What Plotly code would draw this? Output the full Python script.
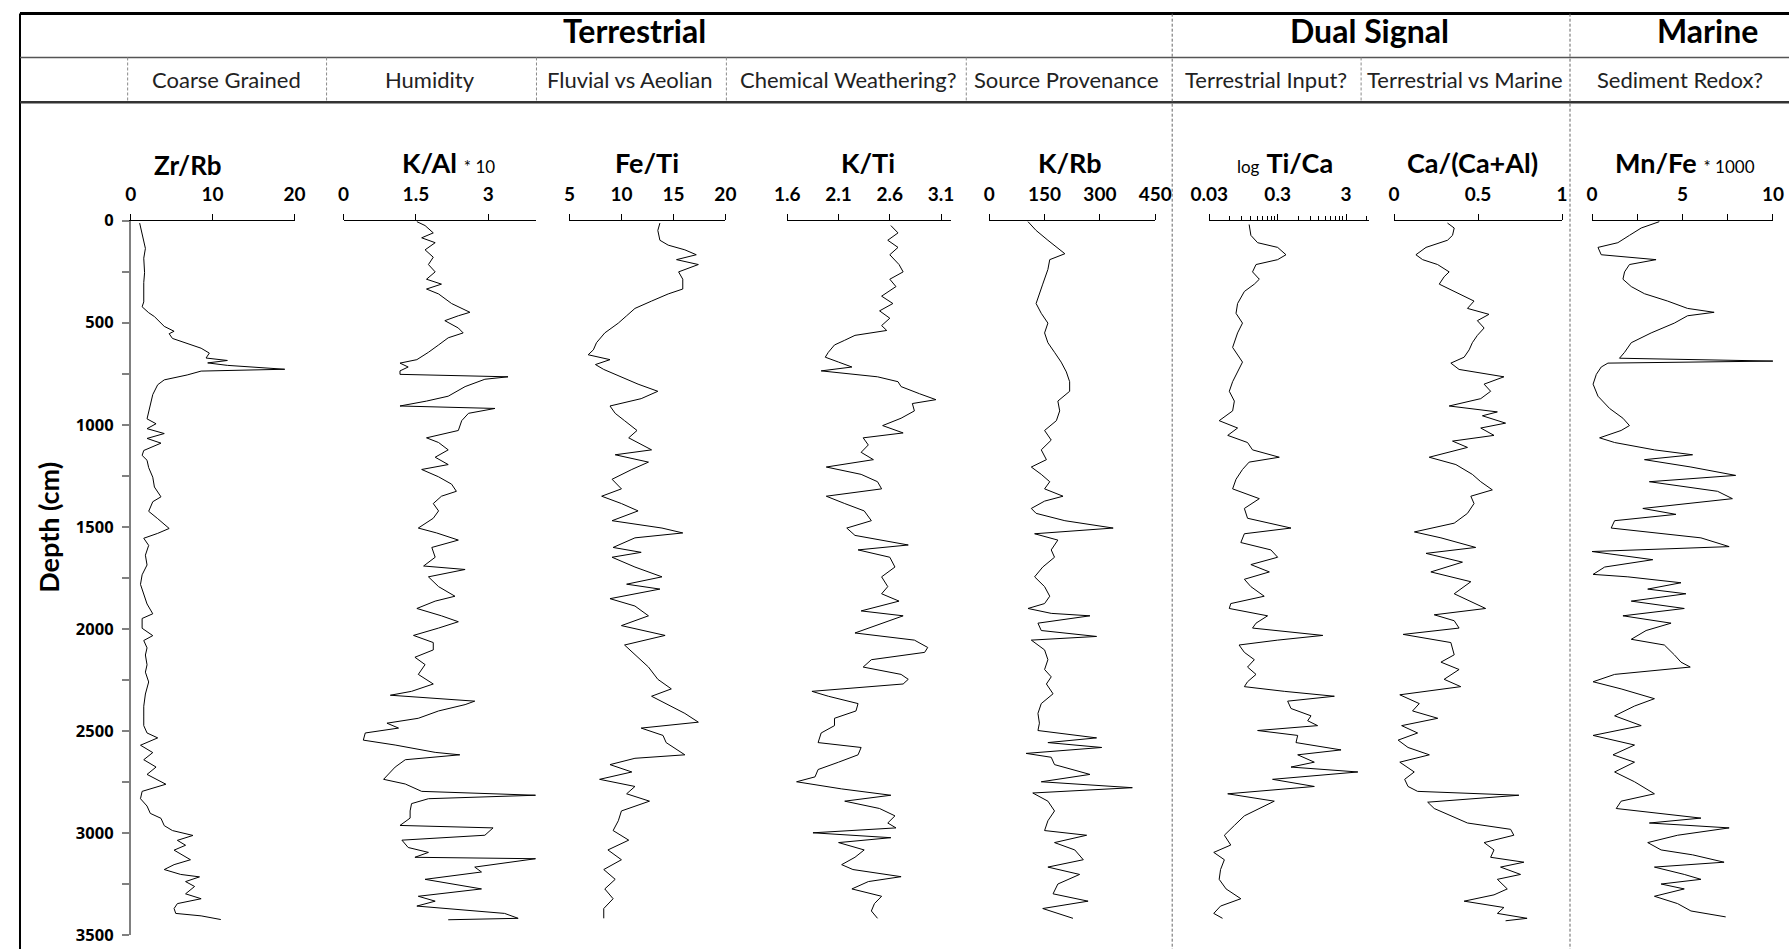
import math
import plotly.graph_objects as go

# ---------------- data (depth cm, value) ----------------
ZR_RB = [(12,1.1),(64,1.4),(136,1.8),(184,1.6),(255,1.7),(303,1.6),(398,1.6),(422,1.4),(451,2.2),(470,2.9),
         (494,3.5),(518,4.1),(542,5.3),(554,4.7),(577,5.1),(601,6.9),(625,8.6),(649,9.6),(673,9.2),(685,11.8),
         (697,9.4),(709,11.8),(728,18.8),(737,8.6),(756,6.9),(780,4.1),(804,3.3),(852,2.7),(900,2.4),(947,2.2),
         (971,2.0),(995,3.1),(1019,2.0),(1043,4.1),(1067,2.0),(1090,3.7),(1126,1.6),(1150,1.4),(1174,2.0),(1210,2.2),
         (1257,2.7),(1305,2.9),(1353,3.7),(1377,2.7),(1424,2.2),(1460,3.3),(1508,4.7),(1532,3.3),(1556,1.6),(1591,2.2),
         (1639,1.8),(1687,2.0),(1735,1.4),(1782,1.2),(1830,1.6),(1878,2.0),(1926,2.7),(1949,1.4),(1997,1.4),(2033,2.7),
         (2057,1.6),(2093,2.0),(2128,1.8),(2176,2.0),(2212,1.8),(2260,2.2),(2319,1.8),(2379,1.6),(2427,1.6),(2474,1.6),
         (2510,2.0),(2534,3.3),(2570,1.2),(2606,2.7),(2641,1.6),(2677,3.1),(2713,2.0),(2761,4.3),(2796,1.4),(2832,1.2),
         (2868,2.0),(2904,2.4),(2928,3.7),(2964,4.1),(2988,5.1),(3012,7.6),(3036,5.7),(3060,6.7),(3084,5.3),(3107,6.3),
         (3131,7.3),(3155,5.3),(3179,4.1),(3203,6.1),(3215,8.4),(3238,6.7),(3262,7.8),(3298,6.7),(3322,8.6),(3346,5.7),
         (3370,5.3),(3394,5.5),(3406,8.6),(3424,11.0)]

K_AL = [(5,1.52),(24,1.69),(60,1.86),(84,1.62),(108,1.90),(143,1.69),(179,1.86),(215,1.76),(251,1.90),(287,1.72),
        (311,2.03),(335,1.72),(359,1.97),(406,2.24),(449,2.62),(466,2.38),(490,2.10),(526,2.38),(550,2.48),(574,2.17),
        (609,1.97),(645,1.76),(681,1.52),(698,1.17),(717,1.34),(736,1.17),(753,1.17),(765,3.41),(777,2.93),(813,2.52),
        (860,2.17),(884,1.72),(908,1.17),(920,3.14),(944,2.59),(980,2.45),(1028,2.38),(1064,1.72),(1087,1.97),(1123,2.17),
        (1159,1.90),(1195,2.17),(1219,1.62),(1255,1.97),(1291,2.24),(1326,2.34),(1350,2.03),(1386,1.86),(1422,1.97),(1458,1.86),
        (1506,1.55),(1530,1.93),(1565,2.38),(1601,1.83),(1649,1.90),(1692,1.66),(1709,2.52),(1745,1.76),(1793,1.97),(1840,2.31),
        (1864,1.90),(1900,1.52),(1936,2.03),(1965,2.38),(1996,1.97),(2032,1.45),(2067,1.86),(2103,1.86),(2139,1.48),(2175,1.69),
        (2223,1.55),(2270,1.86),(2306,1.41),(2325,0.97),(2354,2.72),(2371,2.52),(2402,1.97),(2438,1.55),(2462,0.90),(2486,1.14),
        (2510,0.45),(2545,0.41),(2569,1.07),(2605,1.90),(2617,2.41),(2641,1.28),(2677,1.07),(2701,0.97),(2737,0.83),(2760,1.28),
        (2796,1.62),(2815,3.98),(2832,1.76),(2856,1.41),(2892,1.38),(2927,1.38),(2963,1.17),(2975,3.10),(3011,2.93),(3035,1.21),
        (3071,1.34),(3095,1.76),(3119,1.48),(3126,3.98),(3143,3.41),(3167,2.72),(3191,2.86),(3227,1.69),(3274,2.86),(3310,1.55),
        (3334,1.90),(3358,1.52),(3394,3.34),(3418,3.62),(3425,2.17)]

FE_TI = [(12,13.7),(48,13.5),(96,13.7),(120,14.5),(143,16.1),(167,17.2),(191,15.3),(215,17.4),(251,15.5),(287,15.9),
         (335,15.9),(359,14.5),(394,12.9),(430,11.3),(466,10.5),(502,9.7),(550,8.4),(598,7.6),(633,7.3),(657,6.8),
         (681,8.9),(705,7.5),(729,8.3),(765,10.0),(801,11.6),(836,13.5),(872,11.9),(908,8.9),(944,9.4),(980,10.3),
         (1028,11.5),(1064,10.7),(1123,12.9),(1147,9.4),(1183,12.6),(1219,11.0),(1267,9.1),(1314,10.0),(1350,8.1),(1386,10.0),
         (1422,11.6),(1470,9.1),(1506,13.9),(1530,15.9),(1554,11.3),(1601,9.2),(1625,11.9),(1649,9.1),(1697,11.3),(1745,13.9),
         (1781,10.5),(1805,13.7),(1852,8.9),(1888,11.3),(1936,12.6),(1984,10.0),(2032,14.2),(2079,10.3),(2127,11.3),(2187,12.6),
         (2247,13.5),(2294,14.8),(2330,12.9),(2366,14.3),(2414,16.1),(2457,17.4),(2486,11.9),(2522,14.0),(2557,14.3),(2617,16.1),
         (2634,11.3),(2665,8.9),(2701,11.0),(2737,7.9),(2772,11.3),(2808,10.5),(2844,12.7),(2892,10.0),(2940,9.7),(2988,9.2),
         (3035,10.7),(3083,8.7),(3131,10.0),(3179,8.3),(3227,9.4),(3274,8.4),(3322,9.2),(3370,8.3),(3418,8.3)]

K_TI = [(24,2.61),(60,2.68),(96,2.58),(131,2.68),(167,2.60),(215,2.69),(251,2.73),(287,2.60),(323,2.66),(370,2.52),
        (406,2.63),(442,2.50),(478,2.60),(514,2.52),(538,2.57),(562,2.26),(586,2.16),(609,2.06),(645,2.00),(669,1.97),
        (693,2.10),(717,2.23),(736,1.93),(765,2.48),(789,2.68),(813,2.71),(848,2.89),(877,3.05),(896,2.82),(932,2.84),
        (968,2.71),(1004,2.53),(1040,2.73),(1064,2.34),(1099,2.39),(1135,2.32),(1171,2.44),(1207,1.98),(1243,2.32),(1279,2.48),
        (1314,2.52),(1350,1.98),(1386,2.16),(1422,2.35),(1470,2.42),(1506,2.18),(1542,2.26),(1589,2.78),(1613,2.29),(1649,2.60),
        (1697,2.65),(1745,2.52),(1793,2.58),(1828,2.52),(1864,2.69),(1912,2.32),(1936,2.73),(1972,2.52),(2020,2.26),(2055,2.84),
        (2091,2.97),(2115,2.94),(2151,2.42),(2187,2.34),(2223,2.71),(2247,2.78),(2270,2.73),(2306,1.84),(2330,2.00),(2366,2.29),
        (2402,2.27),(2438,2.06),(2474,2.06),(2510,1.93),(2557,1.90),(2581,2.32),(2617,2.29),(2653,2.10),(2689,1.90),(2725,1.87),
        (2749,1.69),(2784,2.13),(2815,2.61),(2844,2.16),(2880,2.50),(2916,2.65),(2951,2.58),(2975,2.66),(2999,1.85),(3023,2.61),
        (3047,2.10),(3083,2.35),(3119,2.26),(3155,2.13),(3179,2.24),(3214,2.71),(3238,2.39),(3274,2.23),(3310,2.52),(3346,2.45),
        (3382,2.42),(3418,2.48)]

K_RB = [(5,105),(48,127),(96,159),(131,182),(162,205),(191,164),(239,159),(311,145),(406,127),(454,141),
        (502,159),(550,150),(598,159),(645,177),(693,195),(741,209),(789,218),(836,218),(884,186),(932,191),
        (980,182),(1028,150),(1075,168),(1123,141),(1171,155),(1207,114),(1243,141),(1279,164),(1314,150),(1350,200),
        (1374,150),(1410,114),(1434,127),(1470,205),(1506,336),(1534,123),(1565,186),(1613,168),(1649,177),(1697,145),
        (1745,123),(1793,150),(1840,164),(1876,150),(1900,105),(1924,168),(1936,273),(1972,132),(2008,141),(2037,291),
        (2055,114),(2103,150),(2151,159),(2199,150),(2235,168),(2270,155),(2318,173),(2366,141),(2414,132),(2462,136),
        (2498,132),(2534,291),(2557,159),(2581,305),(2610,100),(2629,168),(2665,177),(2713,273),(2749,141),(2778,388),
        (2804,118),(2844,159),(2892,177),(2940,159),(2988,150),(3011,264),(3047,177),(3083,232),(3131,255),(3167,159),
        (3203,245),(3250,186),(3298,173),(3334,268),(3370,145),(3418,227)]

TI_CA = [(19,0.115),(72,0.122),(108,0.153),(131,0.300),(167,0.397),(191,0.300),(215,0.145),(251,0.129),(287,0.162),(311,0.137),
         (347,0.098),(406,0.078),(454,0.074),(502,0.092),(550,0.078),(621,0.066),(693,0.092),(741,0.078),(789,0.066),(836,0.059),
         (884,0.070),(932,0.066),(980,0.042),(1016,0.078),(1052,0.056),(1087,0.109),(1123,0.129),(1159,0.317),(1183,0.115),(1219,0.092),
         (1267,0.074),(1314,0.066),(1362,0.162),(1410,0.098),(1458,0.109),(1506,0.470),(1534,0.098),(1577,0.087),(1613,0.239),(1649,0.300),
         (1685,0.122),(1721,0.227),(1757,0.098),(1793,0.122),(1840,0.191),(1876,0.062),(1900,0.059),(1936,0.214),(1972,0.145),(1996,0.129),
         (2032,1.37),(2055,0.300),(2079,0.082),(2115,0.098),(2151,0.137),(2187,0.109),(2223,0.145),(2259,0.109),(2283,0.098),(2306,0.375),
         (2330,2.02),(2354,0.420),(2390,0.470),(2426,0.922),(2450,0.824),(2474,1.15),(2498,0.153),(2522,0.589),(2557,0.556),(2593,2.53),
         (2617,0.589),(2653,1.03),(2677,0.470),(2701,4.45),(2737,0.253),(2772,1.03),(2808,0.056),(2844,0.268),(2880,0.162),(2916,0.098),
         (2963,0.070),(3011,0.050),(3059,0.062),(3095,0.035),(3131,0.050),(3179,0.044),(3227,0.042),(3274,0.053),(3322,0.087),(3358,0.044),
         (3394,0.035),(3418,0.047)]

CA_CAAL = [(12,0.318),(36,0.358),(72,0.348),(96,0.318),(131,0.19),(167,0.130),(191,0.170),(215,0.259),(251,0.328),(275,0.298),
           (311,0.269),(335,0.328),(359,0.387),(394,0.476),(430,0.437),(459,0.565),(490,0.496),(526,0.536),(562,0.496),(598,0.466),
           (633,0.447),(669,0.417),(698,0.338),(729,0.387),(765,0.654),(801,0.536),(836,0.575),(872,0.516),(908,0.328),(937,0.615),
           (956,0.526),(992,0.664),(1016,0.516),(1052,0.595),(1080,0.348),(1111,0.437),(1159,0.209),(1195,0.368),(1243,0.466),(1279,0.516),
           (1319,0.585),(1350,0.457),(1386,0.476),(1434,0.437),(1482,0.358),(1525,0.121),(1554,0.279),(1601,0.486),(1630,0.190),(1673,0.407),
           (1721,0.219),(1769,0.457),(1828,0.358),(1864,0.457),(1900,0.545),(1931,0.239),(1960,0.358),(1996,0.387),(2027,0.054),(2067,0.338),
           (2127,0.358),(2163,0.279),(2199,0.387),(2247,0.298),(2283,0.397),(2323,0.034),(2366,0.15),(2402,0.11),(2438,0.26),(2474,0.045),
           (2510,0.14),(2545,0.024),(2581,0.083),(2617,0.21),(2653,0.034),(2701,0.12),(2737,0.063),(2772,0.083),(2796,0.14),(2815,0.743),
           (2849,0.200),(2880,0.239),(2916,0.338),(2951,0.437),(2982,0.694),(3011,0.713),(3047,0.536),(3083,0.595),(3119,0.575),(3143,0.773),
           (3167,0.634),(3203,0.753),(3227,0.615),(3274,0.674),(3303,0.595),(3334,0.417),(3365,0.654),(3394,0.615),(3418,0.792),(3430,0.664)]

MN_FE = [(5,3.72),(36,2.72),(72,2.07),(108,1.43),(131,0.33),(167,0.51),(191,3.54),(215,2.07),(251,1.80),(287,1.71),
         (323,2.17),(358,2.90),(394,4.18),(430,5.28),(449,6.75),(466,5.28),(502,4.55),(550,3.27),(598,2.17),(645,1.80),
         (674,1.52),(688,10.0),(698,0.88),(717,0.51),(753,0.24),(801,0.06),(860,0.33),(920,0.97),(968,1.71),(1004,2.07),
         (1028,1.61),(1064,0.42),(1087,1.25),(1123,3.45),(1147,5.56),(1171,2.90),(1207,5.47),(1248,7.94),(1279,3.17),(1326,6.94),
         (1362,7.76),(1410,2.81),(1439,4.64),(1470,1.25),(1506,1.06),(1554,6.02),(1597,7.58),(1621,0.0),(1661,3.36),(1697,0.70),
         (1733,0.06),(1745,1.98),(1774,4.92),(1805,3.08),(1828,5.19),(1864,2.17),(1900,5.10),(1936,1.71),(1972,4.37),(2008,2.99),
         (2051,2.17),(2079,4.00),(2127,4.55),(2163,4.92),(2187,5.43),(2223,1.25),(2259,0.06),(2294,1.61),(2342,3.45),(2378,2.35),
         (2426,1.25),(2474,2.72),(2522,0.06),(2569,2.35),(2617,1.16),(2653,2.35),(2701,1.25),(2749,2.35),(2808,3.45),(2844,1.61),
         (2880,1.34),(2927,6.02),(2951,3.17),(2975,7.58),(3011,4.73),(3047,3.08),(3083,3.82),(3107,5.56),(3143,7.30),(3167,3.45),
         (3203,5.10),(3227,6.02),(3250,3.82),(3274,5.10),(3310,3.45),(3346,4.73),(3382,5.47),(3411,7.39)]

DEPTH_TICKS = list(range(0, 3501, 250))
HEADER_GROUPS = ["Terrestrial", "Dual Signal", "Marine"]
HEADER_LABELS = ["Coarse Grained", "Humidity", "Fluvial vs Aeolian", "Chemical Weathering?",
                 "Source Provenance", "Terrestrial Input?", "Terrestrial vs Marine", "Sediment Redox?"]

# ---------------- layout helpers ----------------
# Target positions are given in screen pixels; the captured page shows the
# figure slightly reduced and offset, so positions are mapped back through that.
W, H = 1815, 962
SX, OX = 0.9806, 17.3
SY, OY = 0.981, 7.3
def fx(x): return (x - OX) / SX
def fy(y): return (y - OY) / SY
def px(x): return fx(x) / W
def py(y): return 1 - fy(y) / H
def clamp(v): return min(1.0, max(0.0, v))

Y_TOP, Y_BOT = 217, 935
LAB = "Lato"

panels = [
    dict(data=ZR_RB, dom=(129, 293), rng=[0, 20], tv=[0, 10, 20], tt=["0", "10", "20"]),
    dict(data=K_AL, dom=(342, 535), rng=[0, 4.0], tv=[0, 1.5, 3], tt=["0", "1.5", "3"]),
    dict(data=FE_TI, dom=(568, 724), rng=[5, 20], tv=[5, 10, 15, 20], tt=["5", "10", "15", "20"]),
    dict(data=K_TI, dom=(786, 950), rng=[1.6, 3.2], tv=[1.6, 2.1, 2.6, 3.1], tt=["1.6", "2.1", "2.6", "3.1"]),
    dict(data=K_RB, dom=(988, 1154), rng=[0, 450], tv=[0, 150, 300, 450], tt=["0", "150", "300", "450"]),
    dict(data=TI_CA, dom=(1208, 1368), rng=[math.log10(0.03), math.log10(6.5)], log=True,
         tv=[0.03, 0.3, 3], tt=["0.03", "0.3", "3"],
         minor=[round(b * k, 4) for b in (0.03, 0.3, 3) for k in range(2, 10) if b * k <= 6.5]),
    dict(data=CA_CAAL, dom=(1393, 1561), rng=[0, 1], tv=[0, 0.5, 1], tt=["0", "0.5", "1"]),
    dict(data=MN_FE, dom=(1591, 1772), rng=[0, 10], tv=[0, 5, 10], tt=["0", "5", "10"], minor=[2.5, 7.5]),
]

fig = go.Figure()
layout = dict(
    width=W, height=H, margin=dict(l=0, r=0, t=0, b=0, pad=0),
    paper_bgcolor="white", plot_bgcolor="rgba(0,0,0,0)", showlegend=False,
)

for i, p in enumerate(panels):
    xname = "x" if i == 0 else f"x{i+1}"
    lname = "xaxis" if i == 0 else f"xaxis{i+1}"
    depth = [d for d, v in p["data"]]
    vals = [v for d, v in p["data"]]
    fig.add_trace(go.Scatter(x=vals, y=depth, mode="lines", xaxis=xname, yaxis="y",
                             line=dict(color="black", width=1), hoverinfo="skip"))
    ax = dict(
        domain=[clamp(px(p["dom"][0])), clamp(px(p["dom"][1]))], anchor="y", side="top",
        range=p["rng"], showline=True, linecolor="black", linewidth=1,
        ticks="outside", ticklen=6, tickwidth=1, tickcolor="black", ticklabelstandoff=5,
        ticklabeloverflow="allow",
        showgrid=False, zeroline=False, tickmode="array", tickvals=p["tv"],
        ticktext=[f"<b>{t}</b>" for t in p["tt"]],
        tickfont=dict(family=LAB, size=19, color="black"), fixedrange=True,
    )
    if p.get("log"):
        ax["type"] = "log"
    if p.get("minor"):
        ax["minor"] = dict(tickmode="array", tickvals=p["minor"], ticks="outside",
                           ticklen=4 if p.get("log") else 6, tickcolor="black", tickwidth=1, showgrid=False)
    layout[lname] = ax

layout["yaxis"] = dict(
    domain=[clamp(py(Y_BOT)), clamp(py(Y_TOP))], anchor="x", side="left", range=[3500, 0],
    showline=True, linecolor="#808080", linewidth=1.5, ticks="outside", ticklen=7,
    tickcolor="#808080", tickwidth=1.5, showgrid=False, zeroline=False,
    tickmode="array", tickvals=DEPTH_TICKS, ticklabeloverflow="allow", ticklabelstandoff=5,
    ticktext=[f"<b>{v}</b>" if v % 500 == 0 else "" for v in DEPTH_TICKS],
    tickfont=dict(family="Open Sans", size=16.5, color="black", weight=800), fixedrange=True,
)

# ---------------- shapes: frame and separators ----------------
shapes = []
def line(x0, y0, x1, y1, color="black", width=1, dash=None):
    d = dict(type="line", xref="paper", yref="paper", x0=px(x0), y0=py(y0), x1=px(x1), y1=py(y1),
             line=dict(color=color, width=width))
    if dash:
        d["line"]["dash"] = dash
    shapes.append(d)

RIGHT, BOTTOM = 1800, 955
line(18.3, 8.8, RIGHT, 8.8, width=3)
line(18.3, 8.8, 18.3, BOTTOM, width=2)
line(18.3, 53, RIGHT, 53, color="#555555", width=1.5)
line(18.3, 98, RIGHT, 98, color="#333333", width=2.5)
for xd in (1171, 1569):
    line(xd, 9, xd, BOTTOM, color="#666666", width=1, dash="3px,2px")
for xd in (126, 325, 535, 725, 965, 1360):
    line(xd, 53, xd, 98, color="#8a8a8a", width=1, dash="3px,2px")
layout["shapes"] = shapes

# ---------------- annotations ----------------
ann = []
def text(x, y, s, size, bold=False, color="black", angle=0):
    ann.append(dict(x=px(x), y=py(y), xref="paper", yref="paper", text=(f"<b>{s}</b>" if bold else s),
                    showarrow=False, xanchor="center", yanchor="middle", textangle=angle,
                    font=dict(family=LAB, size=size, color=color)))

for s, x in zip(HEADER_GROUPS, (633, 1368, 1707)):
    text(x, 26, s, 32, bold=True)
for s, x in zip(HEADER_LABELS, (225, 428, 628, 847, 1065, 1265, 1464, 1679)):
    text(x, 75, s, 22, color="#222222")

small = "<span style='font-size:17px;font-weight:normal'>{}</span>"
titles = [
    (186, 161, 26, "<b>Zr/Rb</b>"),
    (447, 159, 27, "<b>K/Al</b> " + small.format("* 10")),
    (646, 159, 27, "<b>Fe/Ti</b>"),
    (867, 159, 27, "<b>K/Ti</b>"),
    (1069, 159, 27, "<b>K/Rb</b>"),
    (1284, 159, 27, small.format("log") + " <b>Ti/Ca</b>"),
    (1471, 159, 27, "<b>Ca/(Ca+Al)</b>"),
    (1684, 159, 27, "<b>Mn/Fe</b> " + small.format("* 1000")),
]
for x, y, size, s in titles:
    text(x, y, s, size)

text(46, 525, "Depth (cm)", 27, bold=True, angle=-90)
layout["annotations"] = ann

fig.update_layout(**layout)
fig.write_html("out.html")
